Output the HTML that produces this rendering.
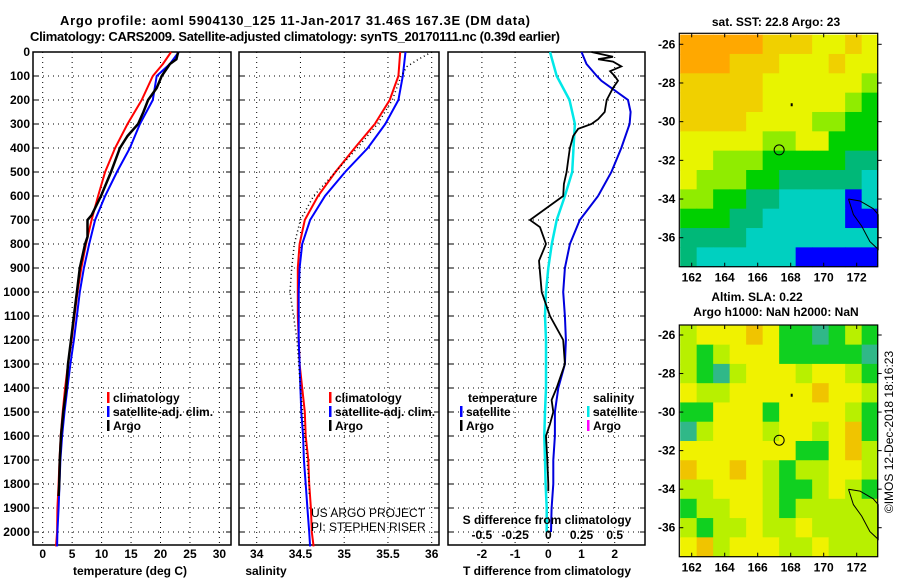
<!DOCTYPE html>
<html><head><meta charset="utf-8"><style>
html,body{margin:0;padding:0;background:#fff}
svg{display:block}
text{font-family:"Liberation Sans",sans-serif;font-weight:bold;fill:#000}
</style></head><body>
<svg id="c" width="900" height="580" viewBox="0 0 900 580">
<text x="295" y="25" text-anchor="middle" font-size="13" textLength="470">Argo profile: aoml 5904130_125 11-Jan-2017 31.46S 167.3E (DM data)</text>
<text x="295" y="41" text-anchor="middle" font-size="13" textLength="530">Climatology: CARS2009. Satellite-adjusted climatology: synTS_20170111.nc (0.39d earlier)</text>
</svg>
<script>
// ---------- data ----------
const depthTicks=[0,100,200,300,400,500,600,700,800,900,1000,1100,1200,1300,1400,1500,1600,1700,1800,1900,2000];
const tempTicks=[0,5,10,15,20,25,30];
const salTicks=[34,34.5,35,35.5,36];
const tdTicks=[-2,-1,0,1,2];
const sdTicks=[-0.5,-0.25,0,0.25,0.5];
const sdTickLabels=["-0.5","-0.25","0","0.25","0.5"];

const tClimP=[0,50,100,200,300,400,500,600,700,800,900,1000,1100,1200,1300,1400,1500,1600,1700,1800,1900,2000,2060];
const tClim=[21.8,20.4,18.7,16.8,14.4,12.3,10.6,9.4,8.3,7.35,6.55,5.9,5.4,4.9,4.3,3.8,3.4,3.05,2.85,2.7,2.5,2.45,2.26];
const tSat=[23.1,21.6,19.35,18.7,16.5,14.8,12.6,10.6,8.9,7.9,7.0,6.3,5.8,5.3,4.7,4.2,3.7,3.3,3.0,2.85,2.7,2.5,2.45];
const tArgoP=[0,30,50,100,150,200,250,300,350,400,500,600,680,700,770,800,900,1000,1100,1200,1300,1400,1500,1600,1700,1800,1850];
const tArgo=[23.0,22.7,21.6,20.2,19.35,17.9,17.1,16.2,14.4,13.1,11.6,9.9,8.3,7.6,7.6,7.2,6.3,5.8,5.3,4.8,4.3,4.0,3.5,3.1,2.9,2.8,2.7];

const sP=[0,100,200,300,400,500,600,700,800,900,1000,1100,1200,1300,1400,1500,1600,1700,1800,1900,2000,2060];
const sClim=[35.64,35.62,35.52,35.35,35.12,34.9,34.7,34.55,34.49,34.47,34.47,34.47,34.48,34.49,34.52,34.55,34.56,34.59,34.6,34.62,34.63,34.65];
const sSat=[35.7,35.67,35.62,35.47,35.27,35.01,34.78,34.61,34.52,34.49,34.48,34.48,34.48,34.49,34.5,34.51,34.53,34.54,34.56,34.58,34.6,34.61];
const sArgoP=[0,30,60,100,200,300,400,500,600,700,800,900,1000,1100,1200,1400,1600,1800,1850];
const sArgo=[36.0,35.85,35.72,35.65,35.55,35.38,35.15,34.9,34.65,34.5,34.43,34.4,34.38,34.42,34.46,34.5,34.55,34.6,34.6];

const dtArgoP=[0,20,30,40,60,80,100,120,150,200,250,280,300,320,350,400,450,500,550,600,650,700,730,800,870,1000,1100,1200,1300,1400,1450,1500,1550,1600,1700,1800,1830];
const dtArgo=[1.3,1.95,1.5,1.95,2.2,1.86,2.0,2.1,1.95,1.76,1.7,1.5,1.3,0.9,0.75,0.65,0.6,0.55,0.47,0.45,-0.05,-0.55,-0.25,-0.07,-0.28,-0.2,0.05,0.45,0.5,0.25,0.1,0.15,0.05,-0.07,-0.03,0,0];
const dP=[0,50,100,120,200,250,300,400,500,600,700,800,900,1000,1100,1200,1300,1400,1500,1600,1700,1800,1900,2000];
const dtSat=[1.0,1.15,1.46,1.6,2.4,2.48,2.45,2.2,1.9,1.5,0.95,0.65,0.5,0.45,0.5,0.53,0.5,0.3,0.2,0.2,0.15,0.15,0.1,0.08];
const dsP=[0,100,200,300,400,500,600,700,800,900,1000,1100,1200,1300,1400,1500,1600,1700,1800,1900,2000];
const dsSat=[0.013,0.063,0.16,0.2,0.19,0.18,0.125,0.063,0.026,0,-0.017,-0.025,-0.017,-0.017,-0.017,-0.025,-0.03,-0.025,-0.02,-0.012,-0.012];

const lonTicks=[162,164,166,168,170,172];
const latTicks=[-26,-28,-30,-32,-34,-36];
const sstColors=["#0000ff","#00d0c0","#00b878","#00d000","#90ec00","#e8f400","#f0d000","#ffa800"];
const sstGrid=[
[7,7,7,7,7,6,6,6,5,5,6,5],
[7,7,7,6,6,6,5,5,5,6,5,5],
[6,6,6,6,6,5,5,5,5,5,5,4],
[6,6,6,6,6,5,5,5,5,5,4,3],
[6,6,6,6,5,5,5,5,4,4,3,3],
[5,5,5,5,5,4,4,5,5,3,3,3],
[5,5,4,4,4,3,3,3,3,3,2,2],
[5,4,4,4,3,3,2,2,2,2,2,1],
[4,4,3,3,2,2,1,1,1,1,0,1],
[3,3,3,2,2,1,1,1,1,1,0,0],
[2,2,2,2,1,1,1,1,1,1,1,1],
[2,1,1,1,1,1,1,0,0,0,0,0]];
const slaColors=["#30b888","#10d020","#b8f000","#f0f200","#f0c400"];
const slaGrid=[
[2,3,3,3,4,3,1,1,0,1,2,1],
[2,1,2,3,3,3,1,1,1,1,1,0],
[2,1,0,2,3,3,3,2,3,3,2,1],
[3,2,2,3,3,3,3,3,4,3,3,2],
[1,1,3,3,3,1,3,3,3,3,2,1],
[0,2,3,3,3,2,3,3,2,3,4,1],
[3,3,3,3,3,3,3,1,1,3,4,2],
[4,3,3,4,3,2,1,2,2,3,3,2],
[2,2,3,3,3,2,1,1,2,3,2,1],
[1,2,2,3,3,2,1,2,2,2,2,2],
[2,1,2,2,3,2,2,3,2,2,2,2],
[3,4,2,3,3,3,2,2,3,2,2,2]];
const floatLon=167.3, floatLat=-31.46;

// ---------- helpers ----------
const NS="http://www.w3.org/2000/svg";
const svg=document.getElementById('c');
function mk(tag,attrs,parent){const e=document.createElementNS(NS,tag);for(const k in attrs)e.setAttribute(k,attrs[k]);(parent||svg).appendChild(e);return e;}
function txt(s,x,y,attrs,parent){const e=mk('text',Object.assign({x:x,y:y,'font-size':12},attrs||{}),parent);e.textContent=s;return e;}

const PT=52, PB=545; const yP=p=>PT+0.24*p;
const panels=[
 {name:'temperature',x0:33,x1:231,fx:v=>42.7+5.89*v},
 {name:'salinity',x0:239,x1:439,fx:v=>256.7+87.5*(v-34)},
 {name:'difference',x0:448,x1:645,fx:v=>548.3+33.2*v}
];
const fxS=v=>548.3+132.8*v;

panels.forEach((pn,i)=>{
  const g=mk('g',{});
  
  
  const xt=i==0?tempTicks:i==1?salTicks:tdTicks;
  xt.forEach(v=>{const x=pn.fx(v);
    const l=mk('line',{x1:x,x2:x,y1:PT,y2:PB,stroke:'#000','stroke-dasharray':'1 4','stroke-width':1},g);
    
    const t=txt(String(v),x,558,{'text-anchor':'middle'},g);
    
  });
  depthTicks.forEach(p=>{const y=yP(p);
    const l=mk('line',{x1:pn.x0,x2:pn.x1,y1:y,y2:y,stroke:'#000','stroke-dasharray':'1 4','stroke-width':1},g);
    
    mk('line',{x1:pn.x0,x2:pn.x0+5,y1:y,y2:y,stroke:'#000'},g);
    mk('line',{x1:pn.x1-5,x2:pn.x1,y1:y,y2:y,stroke:'#000'},g);
    if(i==0){const t=txt(String(p),pn.x0-3,y+4,{'text-anchor':'end'},g);
      }
  });
  const r=mk('rect',{x:pn.x0,y:PT,width:pn.x1-pn.x0,height:PB-PT,fill:'none',stroke:'#000','stroke-width':1.5},g);
  
});
[['temperature (deg C)',130],['salinity',266],['T difference from climatology',547]].forEach(a=>{
  const t=txt(a[0],a[1],575,{'text-anchor':'middle'});
  
});

function line(ps,vs,fx,color,w,dash,name){
  const pts=ps.map((p,k)=>fx(vs[k]).toFixed(1)+','+yP(p).toFixed(1)).join(' ');
  const a={points:pts,fill:'none',stroke:color,'stroke-width':w};
  if(dash)a['stroke-dasharray']=dash;
  const e=mk('polyline',a);
  
  
}
line(tClimP,tClim,panels[0].fx,'#ff0000',2,null,'temperature-climatology-line');
line(tClimP,tSat,panels[0].fx,'#0000ff',2,null,'temperature-satellite-line');
line(tArgoP,tArgo,panels[0].fx,'#000',2.5,null,'temperature-argo-line');
line(sP,sClim,panels[1].fx,'#ff0000',2,null,'salinity-climatology-line');
line(sP,sSat,panels[1].fx,'#0000ff',2,null,'salinity-satellite-line');
line(sArgoP,sArgo,panels[1].fx,'#000',1.5,'1 3','salinity-argo-line');
line(dsP,dsSat,fxS,'#00e8e8',2.5,null,'salinity-diff-satellite-line');
line(dP,dtSat,panels[2].fx,'#0000dd',2,null,'temperature-diff-satellite-line');
line(dtArgoP,dtArgo,panels[2].fx,'#000',1.8,null,'temperature-diff-argo-line');

// legends
function leg(x,y,color,label,name){
  const g=mk('g',{});
  
  
  mk('rect',{x:x,y:y-10,width:2.5,height:11,fill:color},g);
  txt(label,x+6,y,{},g);
}
leg(107,402,'#ff0000','climatology','legend-climatology');
leg(107,416,'#0000ff','satellite-adj. clim.','legend-satellite-adj');
leg(107,430,'#000','Argo','legend-argo');
leg(329,402,'#ff0000','climatology','legend-climatology-sal');
leg(329,416,'#0000ff','satellite-adj. clim.','legend-satellite-adj-sal');
leg(329,430,'#000','Argo','legend-argo-sal');
let t=txt('temperature',468,402);
leg(460,416,'#0000ff','satellite','legend-t-satellite');
leg(460,430,'#000','Argo','legend-t-argo');
t=txt('salinity',593,402);
leg(587,416,'#00e8e8','satellite','legend-s-satellite');
leg(587,430,'#ff00ff','Argo','legend-s-argo');
t=txt('S difference from climatology',547,524,{'text-anchor':'middle'});
sdTicks.forEach((v,k)=>{const e=txt(sdTickLabels[k],fxS(v),539,{'text-anchor':'middle'});
  
  });
t=txt('US ARGO PROJECT',311,517,{});t.style.fontWeight='normal';
t=txt('PI: STEPHEN RISER',311,531,{});t.style.fontWeight='normal';

// maps
function map(y0,y1,latA,latB,colors,grid,name){
  const x0=679.3,x1=877.7;
  const fx=lon=>691.7+16.5*(lon-162);
  const fy=lat=>latA+(latB-latA)*(lat+26)/(-10);
  const g=mk('g',{});
  
  
  grid.forEach((row,r)=>row.forEach((v,c)=>{
    const lon0=161.3+c,lat0=-25.5-r;
    const xa=Math.max(x0,fx(lon0)),xb=Math.min(x1,fx(lon0+1));
    const ya=Math.max(y0,fy(lat0)),yb=Math.min(y1,fy(lat0-1));
    const e=mk('rect',{x:xa,y:ya,width:xb-xa+0.5,height:yb-ya+0.5,fill:colors[v]},g);
    
    
  }));
  mk('rect',{x:x0,y:y0,width:x1-x0,height:y1-y0,fill:'none',stroke:'#000','stroke-width':1.2},g);
  lonTicks.forEach(l=>{const x=fx(l);mk('line',{x1:x,x2:x,y1:y1,y2:y1-4,stroke:'#000'},g);mk('line',{x1:x,x2:x,y1:y0,y2:y0+4,stroke:'#000'},g);
    const e=txt(String(l),x,y1+15,{'text-anchor':'middle'},g);});
  latTicks.forEach(l=>{const y=fy(l);mk('line',{x1:x0,x2:x0+4,y1:y,y2:y,stroke:'#000'},g);mk('line',{x1:x1,x2:x1+4,y1:y,y2:y,stroke:'#000'},g);
    const e=txt(String(l),x0-4,y+4,{'text-anchor':'end'},g);});
  const c=mk('circle',{cx:fx(floatLon),cy:fy(floatLat),r:5,fill:'none',stroke:'#000','stroke-width':1},g);
  
  mk('rect',{x:fx(168),y:fy(-29.1)-1,width:2,height:3,fill:'#000'},g);
  const pts=[[171.5,-34.0],[172.2,-34.1],[173.0,-34.5],[173.3,-34.8],[173.3,-36.6],[172.8,-36.2],[172.3,-35.4],[171.8,-34.8],[171.5,-34.0]];
  const co=mk('polyline',{points:pts.map(p=>fx(p[0]).toFixed(1)+','+fy(p[1]).toFixed(1)).join(' '),fill:'none',stroke:'#000','stroke-width':1},g);
  
}
map(33.3,266.7,44.3,237.7,sstColors,sstGrid,'sst-map');
map(325,556.7,335,527.7,slaColors,slaGrid,'sla-map');
t=txt('sat. SST: 22.8 Argo: 23',776,26,{'text-anchor':'middle'});
t=txt('Altim. SLA: 0.22',757,301,{'text-anchor':'middle'});
t=txt('Argo h1000: NaN h2000: NaN',776,316,{'text-anchor':'middle'});
t=txt('©IMOS 12-Dec-2018 18:16:23',0,0,{'text-anchor':'middle',transform:'translate(893,432) rotate(-90)'});t.style.fontWeight='normal';

</script>
</body></html>
